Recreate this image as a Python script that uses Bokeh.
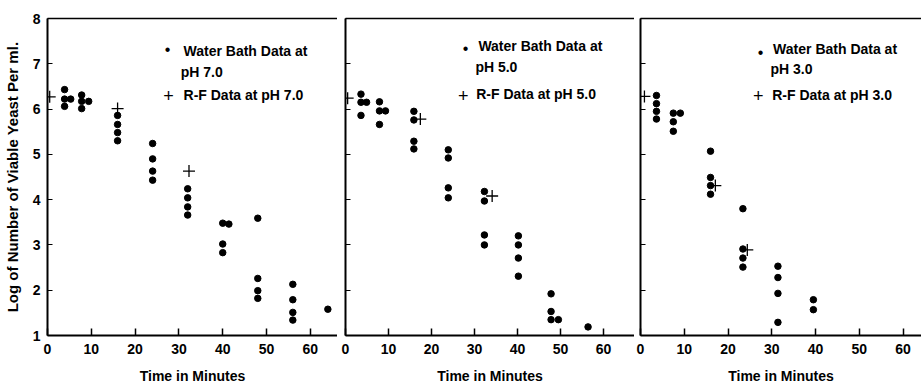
from bokeh.plotting import figure
from bokeh.layouts import row
from bokeh.models import Range1d, LinearAxis, FixedTicker, Label
from bokeh.embed import file_html
from bokeh.resources import INLINE

FONT = "Liberation Sans"

# ---------------- data ----------------
y_ticks = [1, 2, 3, 4, 5, 6, 7, 8]
x_ticks = [0, 10, 20, 30, 40, 50, 60]
x_title = "Time in Minutes"
y_title = "Log of Number of Viable Yeast Per ml."

# pH 7.0
wb_t_ph7 = [3.9, 3.9, 3.9, 5.3, 7.8, 7.8, 7.8, 9.4, 16, 16, 16, 16, 24, 24, 24, 24,
            32, 32, 32, 32, 40, 40, 40, 41.4, 48, 48, 48, 48, 56, 56, 56, 56, 64]
wb_y_ph7 = [6.43, 6.22, 6.06, 6.22, 6.31, 6.17, 6.01, 6.17, 5.86, 5.66, 5.48, 5.30,
            5.24, 4.90, 4.63, 4.43, 4.24, 4.04, 3.84, 3.66, 3.48, 3.02, 2.83, 3.46,
            3.59, 2.26, 1.99, 1.82, 2.13, 1.79, 1.51, 1.34, 1.58]
rf_t_ph7 = [0.5, 16, 32.3]
rf_y_ph7 = [6.27, 6.01, 4.63]

# pH 5.0
wb_t_ph5 = [3.6, 3.6, 3.6, 4.9, 7.9, 7.9, 7.9, 9.3, 15.9, 15.9, 15.9, 15.9,
            23.9, 23.9, 23.9, 23.9, 32.3, 32.3, 32.3, 32.3, 40.2, 40.2, 40.2, 40.2,
            47.8, 47.8, 47.8, 49.5, 56.4]
wb_y_ph5 = [6.33, 6.15, 5.86, 6.15, 6.16, 5.96, 5.66, 5.96, 5.95, 5.76, 5.29, 5.12,
            5.10, 4.92, 4.26, 4.04, 4.18, 3.97, 3.22, 3.00, 3.20, 3.00, 2.71, 2.31,
            1.92, 1.53, 1.35, 1.35, 1.19]
rf_t_ph5 = [0.5, 17.4, 34.1]
rf_y_ph5 = [6.24, 5.78, 4.08]

# pH 3.0
wb_t_ph3 = [3.65, 3.65, 3.65, 3.65, 7.5, 7.5, 7.5, 9.1, 16, 16, 16, 16,
            23.4, 23.4, 23.4, 23.4, 31.4, 31.4, 31.4, 31.4, 39.5, 39.5]
wb_y_ph3 = [6.30, 6.12, 5.95, 5.78, 5.91, 5.72, 5.51, 5.91, 5.07, 4.49, 4.31, 4.12,
            3.80, 2.91, 2.71, 2.51, 2.53, 2.28, 1.93, 1.29, 1.79, 1.57]
rf_t_ph3 = [0.9, 17.1, 24.4]
rf_y_ph3 = [6.28, 4.31, 2.89]

ph_labels = ["7.0", "5.0", "3.0"]


def make_panel(wb_t, wb_y, rf_t, rf_y, ph, width, left, top, bottom, x_end,
               show_y, leg):
    p = figure(width=width, height=392, output_backend="svg", toolbar_location=None,
               x_range=Range1d(0, x_end), y_range=Range1d(1, 8),
               min_border_left=left, min_border_right=0,
               min_border_top=top, min_border_bottom=bottom,
               x_axis_type=None, y_axis_type=None)
    p.outline_line_color = None
    p.grid.visible = False
    p.background_fill_color = "white"
    p.border_fill_color = "white"

    xa = LinearAxis(ticker=FixedTicker(ticks=x_ticks), axis_label=x_title)
    xa.axis_line_width = 2
    xa.axis_line_color = "black"
    xa.major_tick_in = 7
    xa.major_tick_out = 0
    xa.major_tick_line_width = 1.5
    xa.minor_tick_line_color = None
    xa.major_label_text_font = FONT
    xa.major_label_text_font_style = "bold"
    xa.major_label_text_font_size = "14px"
    xa.major_label_text_color = "black"
    xa.major_label_standoff = 8
    xa.axis_label_text_font = FONT
    xa.axis_label_text_font_style = "bold"
    xa.axis_label_text_font_size = "14px"
    xa.axis_label_text_color = "black"
    xa.axis_label_standoff = 11
    p.add_layout(xa, "below")

    ya = LinearAxis(ticker=FixedTicker(ticks=y_ticks))
    ya.axis_line_width = 2
    ya.axis_line_color = "black"
    ya.major_tick_in = 5
    ya.major_tick_out = 0
    ya.major_tick_line_width = 1.2
    ya.minor_tick_line_color = None
    if show_y:
        ya.axis_label = y_title
        ya.major_label_text_font = FONT
        ya.major_label_text_font_style = "bold"
        ya.major_label_text_font_size = "14px"
        ya.major_label_text_color = "black"
        ya.major_label_standoff = 7
        ya.axis_label_text_font = FONT
        ya.axis_label_text_font_style = "bold"
        ya.axis_label_text_font_size = "15px"
        ya.axis_label_text_color = "black"
        ya.axis_label_standoff = 9
    else:
        ya.major_label_overrides = {t: "" for t in y_ticks}
        ya.major_label_standoff = 0
    p.add_layout(ya, "left")

    ta = LinearAxis(ticker=FixedTicker(ticks=[]))
    ta.axis_line_width = 1.5
    ta.axis_line_color = "black"
    ta.major_tick_line_color = None
    ta.minor_tick_line_color = None
    ta.major_label_standoff = 0
    p.add_layout(ta, "above")

    p.scatter(wb_t, wb_y, marker="circle", size=6.5, fill_color="black",
              line_color="black")
    p.scatter(rf_t, rf_y, marker="cross", size=12, line_color="black",
              line_width=1.3)

    (bx, by), (t1x, t1y), (t2x, t2y), (cx, cy), (t3x, t3y) = leg
    common = dict(text_font=FONT, text_font_style="bold", text_font_size="14px",
                  text_color="black", text_baseline="middle", text_align="left")
    p.add_layout(Label(x=bx, y=by, text="\u2022", text_font=FONT,
                       text_font_size="16px", text_color="black",
                       text_baseline="middle", text_align="center"))
    p.add_layout(Label(x=t1x, y=t1y, text="Water Bath Data at", **common))
    p.add_layout(Label(x=t2x, y=t2y, text="pH " + ph, **common))
    p.add_layout(Label(x=cx, y=cy, text="+", text_font=FONT,
                       text_font_size="18px", text_color="black",
                       text_baseline="middle", text_align="center"))
    p.add_layout(Label(x=t3x, y=t3y, text="R-F Data at pH " + ph, **common))
    return p


p1 = make_panel(wb_t_ph7, wb_y_ph7, rf_t_ph7, rf_y_ph7, ph_labels[0],
                width=337, left=47, top=12, bottom=57, x_end=66.2, show_y=True,
                leg=[(27.4, 7.31), (31.05, 7.29), (30.4, 6.81), (27.6, 6.31), (31.05, 6.31)])
p2 = make_panel(wb_t_ph5, wb_y_ph5, rf_t_ph5, rf_y_ph5, ph_labels[1],
                width=297, left=8, top=15, bottom=55, x_end=67.2, show_y=False,
                leg=[(27.9, 7.34), (30.9, 7.40), (30.2, 6.93), (27.4, 6.29), (30.4, 6.34)])
p3 = make_panel(wb_t_ph3, wb_y_ph3, rf_t_ph3, rf_y_ph3, ph_labels[2],
                width=287, left=6, top=18, bottom=52, x_end=64.2, show_y=False,
                leg=[(27.4, 7.25), (30.3, 7.32), (29.7, 6.89), (26.9, 6.29), (30.1, 6.30)])

layout = row(p1, p2, p3, spacing=0)

open("out.html", "w").write(file_html(layout, INLINE))
